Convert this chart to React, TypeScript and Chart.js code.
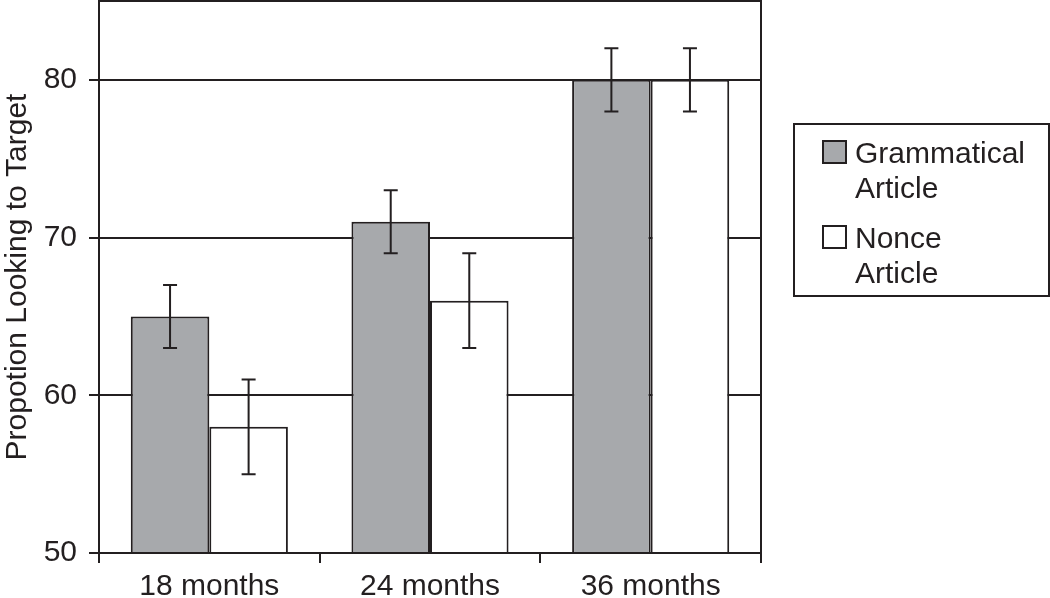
import React, { useEffect, useRef } from "react";
import { Chart, registerables } from "chart.js";

Chart.register(...registerables);

const categories = ["18 months", "24 months", "36 months"];
const seriesNames = ["Grammatical Article", "Nonce Article"];
const grammatical = [65, 71, 80];
const grammaticalLow = [63, 69, 78];
const grammaticalHigh = [67, 73, 82];
const nonce = [58, 66, 80];
const nonceLow = [55, 63, 78];
const nonceHigh = [61, 69, 82];
const yTicks = [50, 60, 70, 80];
const yAxisTitle = "Propotion Looking to Target";

const INK = "#231f20";
const GREY = "#a7a9ac";
const FONT = "'Liberation Sans', Arial, sans-serif";
const FS = 30;

const errorBars = [
  { low: grammaticalLow, high: grammaticalHigh },
  { low: nonceLow, high: nonceHigh },
];

const framePlugin = {
  id: "frame",
  afterDatasetsDraw(chart: any) {
    const { ctx, chartArea, scales } = chart;
    ctx.save();
    ctx.strokeStyle = INK;
    ctx.lineWidth = 2;
    chart.data.datasets.forEach((ds: any, di: number) => {
      const meta = chart.getDatasetMeta(di);
      meta.data.forEach((bar: any, i: number) => {
        const x = bar.x;
        const yl = scales.y.getPixelForValue(errorBars[di].low[i]);
        const yh = scales.y.getPixelForValue(errorBars[di].high[i]);
        ctx.beginPath();
        ctx.moveTo(x, yl);
        ctx.lineTo(x, yh);
        ctx.moveTo(x - 7, yl);
        ctx.lineTo(x + 7, yl);
        ctx.moveTo(x - 7, yh);
        ctx.lineTo(x + 7, yh);
        ctx.stroke();
      });
    });
    ctx.strokeRect(chartArea.left, chartArea.top, chartArea.right - chartArea.left, chartArea.bottom - chartArea.top);
    ctx.restore();
  },
  afterDraw(chart: any) {
    const { ctx, chartArea } = chart;
    const left = chartArea.right + 33;
    const top = 124;
    ctx.save();
    ctx.strokeStyle = INK;
    ctx.lineWidth = 2;
    ctx.strokeRect(left, top, 255, 172);
    ctx.font = `${FS}px ${FONT}`;
    ctx.textBaseline = "alphabetic";
    ctx.textAlign = "left";
    chart.data.datasets.forEach((ds: any, di: number) => {
      const sy = top + 17 + di * 85;
      ctx.fillStyle = ds.backgroundColor;
      ctx.fillRect(left + 29, sy, 23, 22);
      ctx.strokeRect(left + 29, sy, 23, 22);
      ctx.fillStyle = INK;
      const words = seriesNames[di].split(" ");
      words.forEach((w: string, li: number) => {
        ctx.fillText(w, left + 61, sy + 22 + li * 35);
      });
    });
    ctx.restore();
  },
};

export default function App() {
  const ref = useRef<HTMLCanvasElement>(null);
  useEffect(() => {
    document.body.style.margin = "0";
    const chart = new Chart(ref.current!, {
      type: "bar",
      data: {
        labels: categories,
        datasets: [
          {
            label: seriesNames[0],
            data: grammatical,
            backgroundColor: GREY,
            borderColor: INK,
            borderWidth: 2,
          },
          {
            label: seriesNames[1],
            data: nonce,
            backgroundColor: "#ffffff",
            borderColor: INK,
            borderWidth: 2,
          },
        ],
      },
      options: {
        animation: false,
        responsive: false,
        maintainAspectRatio: false,
        layout: { padding: { left: 0, right: 289, top: 1, bottom: 0 } },
        plugins: { legend: { display: false }, tooltip: { enabled: false } },
        datasets: { bar: { categoryPercentage: 0.712, barPercentage: 1 } },
        scales: {
          x: {
            grid: { drawOnChartArea: false, drawTicks: true, tickLength: 10, color: INK, lineWidth: 2, offset: true },
            border: { color: INK, width: 2 },
            ticks: { color: INK, font: { family: FONT, size: FS }, padding: 6, maxRotation: 0 },
            afterFit(scale: any) {
              scale.height = 45;
              scale.paddingLeft = 0;
              scale.paddingRight = 0;
            },
          },
          y: {
            min: 50,
            max: 85,
            afterBuildTicks(scale: any) {
              scale.ticks = yTicks.map((v) => ({ value: v }));
            },
            grid: { color: INK, lineWidth: 2, tickLength: 10 },
            border: { color: INK, width: 2 },
            ticks: { color: INK, font: { family: FONT, size: FS }, padding: 12 },
            title: {
              display: true,
              text: yAxisTitle,
              color: INK,
              font: { family: FONT, size: FS },
              padding: { top: 0, bottom: 6 },
            },
            afterFit(scale: any) {
              scale.width = 99;
              scale.paddingTop = 0;
              scale.paddingBottom = 0;
            },
          },
        },
      },
      plugins: [framePlugin],
    });
    return () => chart.destroy();
  }, []);
  return <canvas ref={ref} width={1050} height={598} style={{ display: "block" }} />;
}
